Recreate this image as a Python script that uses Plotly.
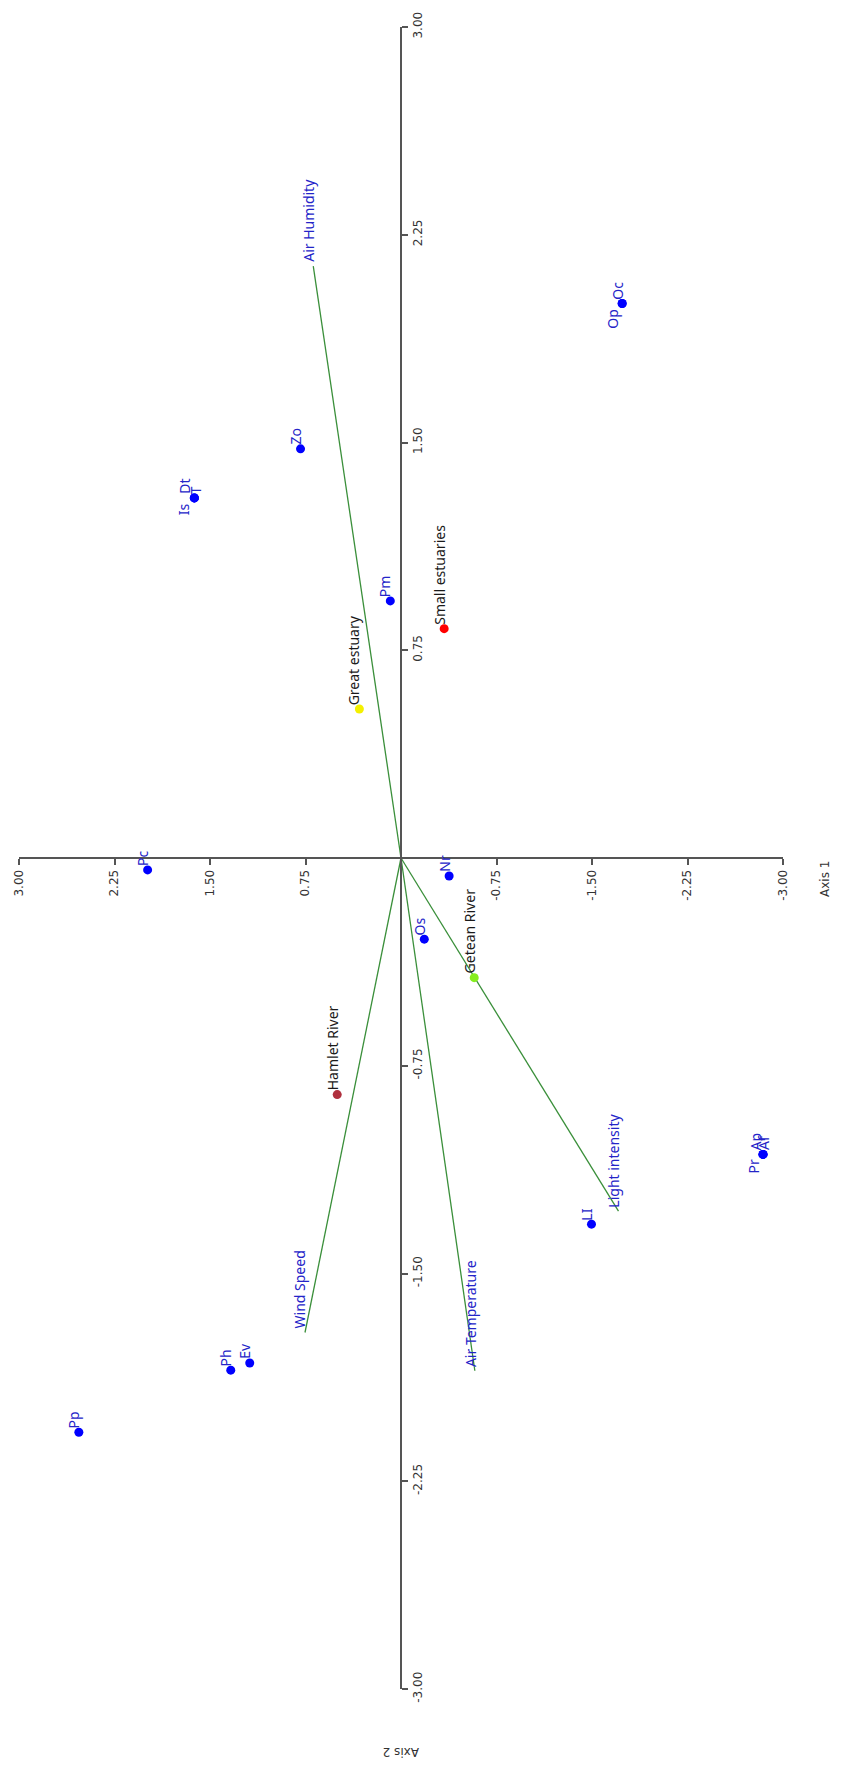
import plotly.graph_objects as go

# Species scores (Axis 1, Axis 2)
species = ["Zo", "Dt", "Is", "T", "Pm", "Oc", "Op", "Pc", "Nr", "Os",
           "LI", "Ap", "Pr", "Af", "Ev", "Ph", "Pp"]
species_ax1 = [0.789, 1.623, 1.623, 1.623, 0.084, -1.737, -1.737, 1.990, -0.378, -0.183,
               -1.496, -2.843, -2.843, -2.843, 1.188, 1.337, 2.530]
species_ax2 = [1.477, 1.300, 1.300, 1.300, 0.928, 2.002, 2.002, -0.043, -0.065, -0.293,
               -1.322, -1.070, -1.070, -1.070, -1.823, -1.849, -2.073]

# Site scores
sites = ["Great estuary", "Small estuaries", "Getean River", "Hamlet River"]
sites_ax1 = [0.327, -0.339, -0.575, 0.501]
sites_ax2 = [0.538, 0.828, -0.432, -0.854]
site_colors = ["#f4f000", "#ff0000", "#86ee1e", "#b0303e"]

# Environmental variable vectors (end points)
env_vars = ["Air Humidity", "Light intensity", "Wind Speed", "Air Temperature"]
env_ax1 = [0.689, -1.708, 0.754, -0.580]
env_ax2 = [2.137, -1.275, -1.713, -1.851]

# Axis ticks
tick_vals = [-3.0, -2.25, -1.5, -0.75, 0.75, 1.5, 2.25, 3.0]
tick_text = ["-3.00", "-2.25", "-1.50", "-0.75", "0.75", "1.50", "2.25", "3.00"]

# label placement for points sharing a position: (side, horizontal shift in px)
label_place = {
    "Dt": ("above", -10), "Is": ("below", -10), "T": ("above", 2),
    "Oc": ("above", -5), "Op": ("below", -10),
    "Ap": ("above", -8), "Pr": ("below", -10), "Af": ("above", 1),
}

BLUE_TXT = "#2424c8"
LABEL_FONT = "Noto Sans"

fig = go.Figure()

# vectors from the origin
for name, a1, a2 in zip(env_vars, env_ax1, env_ax2):
    fig.add_trace(go.Scatter(x=[0, a1], y=[0, a2], mode="lines",
                             line=dict(color="#3a8f3a", width=1.3),
                             hoverinfo="skip", showlegend=False))

fig.add_trace(go.Scatter(x=species_ax1, y=species_ax2, mode="markers",
                         marker=dict(color="#0000ff", size=9),
                         text=species, showlegend=False))
fig.add_trace(go.Scatter(x=sites_ax1, y=sites_ax2, mode="markers",
                         marker=dict(color=site_colors, size=9),
                         text=sites, showlegend=False))


def point_label(name, a1, a2, color, side="above", xs=-5):
    if side == "below":
        return dict(x=a1, y=a2, text=name, textangle=-90, showarrow=False,
                    xanchor="center", yanchor="top", xshift=xs, yshift=-3,
                    font=dict(family=LABEL_FONT, size=14, color=color))
    return dict(x=a1, y=a2, text=name, textangle=-90, showarrow=False,
                xanchor="center", yanchor="bottom", xshift=xs, yshift=2,
                font=dict(family=LABEL_FONT, size=14, color=color))


ann = []
for name, a1, a2 in zip(species, species_ax1, species_ax2):
    side, xs = label_place.get(name, ("above", -5))
    ann.append(point_label(name, a1, a2, BLUE_TXT, side, xs))

for name, a1, a2 in zip(sites, sites_ax1, sites_ax2):
    ann.append(point_label(name, a1, a2, "#1a1a1a"))

for name, a1, a2 in zip(env_vars, env_ax1, env_ax2):
    ann.append(point_label(name, a1, a2, BLUE_TXT))

# axis titles
ann.append(dict(xref="paper", yref="paper", x=1.0, y=0.5, xshift=42, yshift=-21,
                xanchor="center", yanchor="middle", text="Axis 1",
                showarrow=False, textangle=-90,
                font=dict(family="DejaVu Sans", size=12, color="#333333")))
ann.append(dict(xref="paper", yref="paper", x=0.5, y=0.0, yshift=-63,
                xanchor="center", yanchor="middle", text="Axis 2",
                showarrow=False, textangle=180,
                font=dict(family="DejaVu Sans", size=12, color="#333333")))

axis_common = dict(
    showline=True, linecolor="#555555", linewidth=2,
    ticks="outside", ticklen=6, tickwidth=1.5, tickcolor="#555555",
    tickvals=tick_vals, ticktext=tick_text, tickangle=-90,
    tickfont=dict(family="DejaVu Sans", size=12, color="#333333"),
    showgrid=False, zeroline=False, anchor="free", position=0.5,
)

fig.update_layout(
    width=843, height=1769,
    margin=dict(l=17, r=60, t=23, b=80),
    paper_bgcolor="#ffffff", plot_bgcolor="#ffffff",
    xaxis=dict(range=[3, -3], **axis_common),
    yaxis=dict(range=[-3, 3], side="right", **axis_common),
    annotations=ann,
    showlegend=False,
)

fig.write_html("out.html")
